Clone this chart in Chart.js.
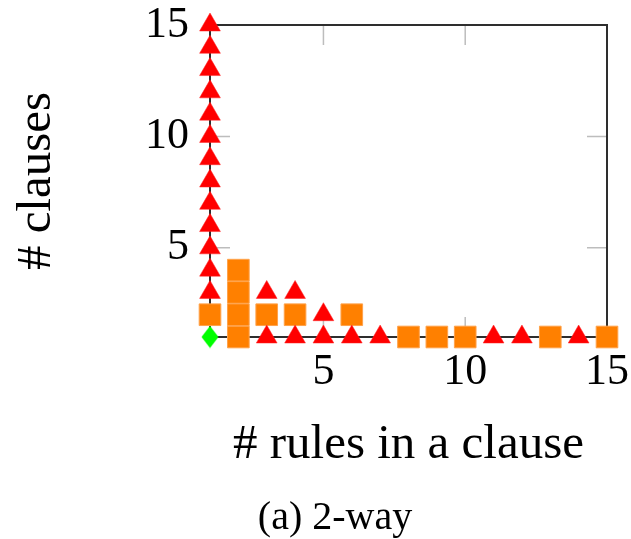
<!DOCTYPE html>
<html>
<head>
<meta charset="utf-8">
<style>
  html, body { margin: 0; padding: 0; background: #fff; }
  #c { display: block; }
</style>
<script src="https://cdn.jsdelivr.net/npm/chart.js@4.4.1/dist/chart.umd.min.js"></script>
</head>
<body>
<canvas id="c" width="631" height="539"></canvas>
<script>
// ---- data ----
const xTickValues = [5, 10, 15];
const yTickValues = [5, 10, 15];
const axisMin = 1, axisMax = 15;

const triangleX = [1,1,1,1,1,1,1,1,1,1,1,1,1, 3,3,4,4,5,5,6,7,11,12,14];
const triangleY = [3,4,5,6,7,8,9,10,11,12,13,14,15, 1,3,1,3,1,2,1,1,1,1,1];

const squareX = [1,2,2,2,2,3,4,6,8,9,10,13,15];
const squareY = [2,1,2,3,4,2,2,2,1,1,1,1,1];

const diamondX = [1];
const diamondY = [1];

const xTitle = '# rules in a clause';
const yTitle = '# clauses';
const caption = '(a) 2-way';

function toPoints(xs, ys) { return xs.map((x, i) => ({x: x, y: ys[i]})); }

// diamond marker (taller than wide)
const dia = document.createElement('canvas');
dia.width = 18; dia.height = 23;
(function(){
  const g = dia.getContext('2d');
  g.fillStyle = '#00ff00';
  g.beginPath();
  g.moveTo(9, 0.5); g.lineTo(17.5, 11.5); g.lineTo(9, 22.5); g.lineTo(0.5, 11.5);
  g.closePath(); g.fill();
})();

const serif = 'Liberation Serif';

const framePlugin = {
  id: 'frame',
  beforeDatasetsDraw(chart) {
    const {ctx, chartArea: a, scales: {x, y}} = chart;
    ctx.save();
    // inner tick marks
    ctx.strokeStyle = '#bdbdbd';
    ctx.lineWidth = 1.5;
    const L = 20;
    [5, 10].forEach(v => {
      const px = x.getPixelForValue(v);
      ctx.beginPath();
      ctx.moveTo(px, a.bottom); ctx.lineTo(px, a.bottom - L);
      ctx.moveTo(px, a.top); ctx.lineTo(px, a.top + L);
      ctx.stroke();
      const py = y.getPixelForValue(v);
      ctx.beginPath();
      ctx.moveTo(a.left, py); ctx.lineTo(a.left + L, py);
      ctx.moveTo(a.right, py); ctx.lineTo(a.right - L, py);
      ctx.stroke();
    });
    // frame
    ctx.strokeStyle = '#2e2e2e';
    ctx.lineWidth = 2;
    ctx.strokeRect(a.left, a.top, a.right - a.left, a.bottom - a.top);
    ctx.restore();
  },
  afterDraw(chart) {
    const {ctx} = chart;
    ctx.save();
    ctx.fillStyle = '#000';
    ctx.font = '40px "' + serif + '"';
    ctx.textAlign = 'center';
    ctx.textBaseline = 'middle';
    ctx.fillText(caption, 335, 518);
    ctx.restore();
  }
};

new Chart(document.getElementById('c'), {
  type: 'scatter',
  data: {
    datasets: [
      {
        label: 'triangles',
        data: toPoints(triangleX, triangleY),
        pointStyle: 'triangle',
        pointRadius: 12,
        backgroundColor: '#ff0000',
        borderColor: '#ff2020',
        borderWidth: 0.5,
        clip: false
      },
      {
        label: 'squares',
        data: toPoints(squareX, squareY),
        pointStyle: 'rect',
        pointRadius: 15.3,
        backgroundColor: '#ff8000',
        borderColor: '#ffa24a',
        borderWidth: 1,
        clip: false
      },
      {
        label: 'diamond',
        data: toPoints(diamondX, diamondY),
        pointStyle: dia,
        pointRadius: 10,
        backgroundColor: '#00ff00',
        clip: false
      }
    ]
  },
  options: {
    responsive: false,
    animation: false,
    events: [],
    layout: { padding: { left: 0, right: 24, top: 25, bottom: 43.2 } },
    plugins: {
      legend: { display: false },
      tooltip: { enabled: false },
      title: { display: false }
    },
    scales: {
      x: {
        type: 'linear',
        min: axisMin, max: axisMax,
        afterBuildTicks(s) { s.ticks = xTickValues.map(v => ({value: v})); },
        afterFit(s) { s.height = 158.8; s.paddingLeft = 0; s.paddingRight = 0; },
        grid: { display: false },
        border: { display: false },
        ticks: { color: '#000', padding: 1, font: { family: serif, size: 44 } },
        title: {
          display: true, text: xTitle, color: '#000',
          font: { family: serif, size: 49, lineHeight: 1.2 },
          padding: { top: 0, bottom: 21 }
        }
      },
      y: {
        type: 'linear',
        min: axisMin, max: axisMax,
        afterBuildTicks(s) { s.ticks = yTickValues.map(v => ({value: v})); },
        afterFit(s) { s.width = 210; s.paddingTop = 0; s.paddingBottom = 0; },
        grid: { display: false },
        border: { display: false },
        ticks: { color: '#000', padding: 13, font: { family: serif, size: 44 } },
        title: {
          display: true, text: yTitle, color: '#000',
          font: { family: serif, size: 49, lineHeight: 1.2 },
          padding: { top: 8, bottom: 0 }
        }
      }
    }
  },
  plugins: [framePlugin]
});
</script>
</body>
</html>
